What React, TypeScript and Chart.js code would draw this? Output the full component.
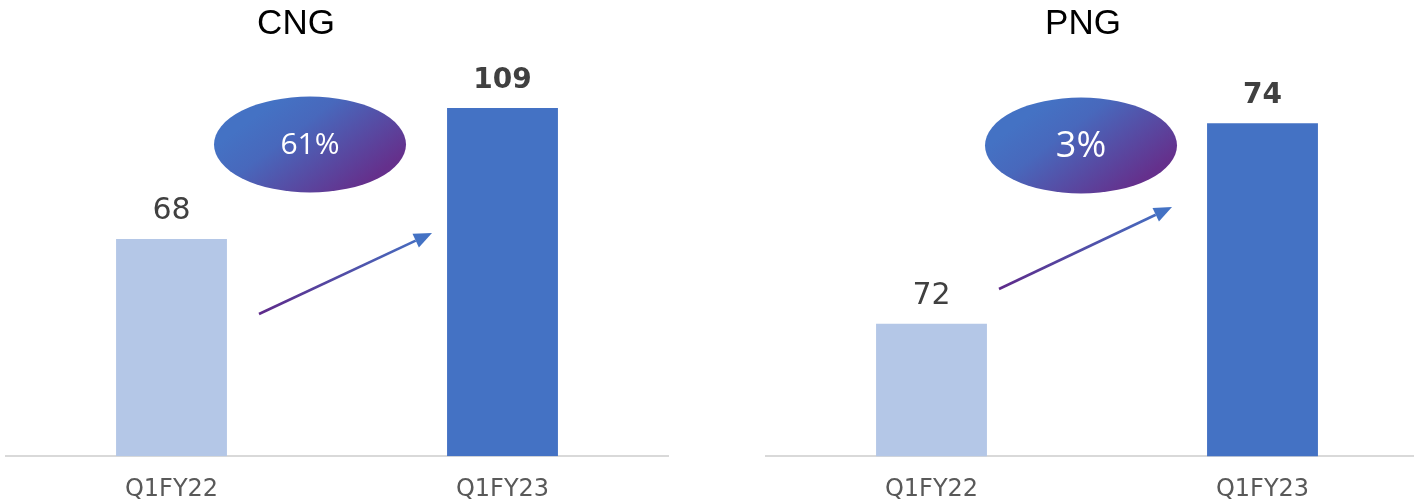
import React, { useEffect, useRef } from "react";
import { Chart, registerables } from "chart.js";

Chart.register(...registerables);

// ---- data ----
const categories = ["Q1FY22", "Q1FY23"];
const cngValues = [68, 109];
const pngValues = [72, 74];
const cngGrowth = "61%";
const pngGrowth = "3%";
const titles = ["CNG", "PNG"];

const BAR_LIGHT = "#B4C7E7";
const BAR_DARK = "#4472C4";
const BLUE = "#4472C4";
const PURPLE = "#65308C";

type Deco = {
  title: string;
  titleX: number;
  growth: string;
  growthFont: number;
  ell: { cx: number; cy: number; rx: number; ry: number };
  arrow: { x1: number; y1: number; x2: number; y2: number };
};

const decoPlugin = {
  id: "deco",
  afterDatasetsDraw(chart: any, _args: any, opts: Deco) {
    const ctx = chart.ctx as CanvasRenderingContext2D;
    // title
    ctx.save();
    ctx.fillStyle = "#000000";
    ctx.font = "35px 'Liberation Sans', Arial, sans-serif";
    ctx.textAlign = "center";
    ctx.textBaseline = "alphabetic";
    ctx.fillText(opts.title, opts.titleX, 34);
    ctx.restore();

    // value labels
    const meta = chart.getDatasetMeta(0);
    const data = chart.data.datasets[0].data as number[];
    meta.data.forEach((bar: any, i: number) => {
      ctx.save();
      ctx.fillStyle = "#404040";
      ctx.textAlign = "center";
      ctx.textBaseline = "alphabetic";
      ctx.font = i === 1 ? "bold 28px 'DejaVu Sans', sans-serif" : "30px 'DejaVu Sans', sans-serif";
      ctx.fillText(String(data[i]), bar.x, bar.y - 20);
      ctx.restore();
    });

    // ellipse
    const e = opts.ell;
    ctx.save();
    const g = ctx.createLinearGradient(e.cx - e.rx * 0.3, e.cy - e.ry, e.cx + e.rx * 0.45, e.cy + e.ry);
    g.addColorStop(0, BLUE);
    g.addColorStop(0.3, "#4868BC");
    g.addColorStop(1, PURPLE);
    ctx.fillStyle = g;
    ctx.beginPath();
    ctx.ellipse(e.cx, e.cy, e.rx, e.ry, 0, 0, Math.PI * 2);
    ctx.fill();
    ctx.fillStyle = "#FFFFFF";
    ctx.font = `${opts.growthFont}px 'Open Sans', sans-serif`;
    ctx.textAlign = "center";
    ctx.textBaseline = "middle";
    ctx.fillText(opts.growth, e.cx, e.cy + 1);
    ctx.restore();

    // arrow
    const a = opts.arrow;
    ctx.save();
    const ag = ctx.createLinearGradient(a.x1, a.y1, a.x2, a.y2);
    ag.addColorStop(0, "#5E2A8A");
    ag.addColorStop(1, BLUE);
    const ang = Math.atan2(a.y2 - a.y1, a.x2 - a.x1);
    const headLen = 18;
    const headW = 7.5;
    const bx = a.x2 - headLen * Math.cos(ang);
    const by = a.y2 - headLen * Math.sin(ang);
    ctx.strokeStyle = ag;
    ctx.lineWidth = 2.6;
    ctx.beginPath();
    ctx.moveTo(a.x1, a.y1);
    ctx.lineTo(bx, by);
    ctx.stroke();
    ctx.fillStyle = BLUE;
    ctx.beginPath();
    ctx.moveTo(a.x2, a.y2);
    ctx.lineTo(bx + headW * Math.sin(ang), by - headW * Math.cos(ang));
    ctx.lineTo(bx - headW * Math.sin(ang), by + headW * Math.cos(ang));
    ctx.closePath();
    ctx.fill();
    ctx.restore();
  },
};

function BarPanel({ values, yMin, yMax, deco }: { values: number[]; yMin: number; yMax: number; deco: Deco }) {
  const ref = useRef<HTMLCanvasElement>(null);
  useEffect(() => {
    if (!ref.current) return;
    const chart = new Chart(ref.current, {
      type: "bar",
      data: {
        labels: categories,
        datasets: [
          {
            data: values,
            backgroundColor: [BAR_LIGHT, BAR_DARK],
            categoryPercentage: 1,
            barPercentage: 0.335,
          },
        ],
      },
      options: {
        animation: false,
        responsive: false,
        layout: { padding: { left: 6, right: 6, top: 57, bottom: 0 } },
        plugins: {
          legend: { display: false },
          tooltip: { enabled: false },
          deco: deco,
        } as any,
        scales: {
          x: {
            grid: { display: false, drawTicks: false },
            border: { display: true, color: "#D9D9D9", width: 2 },
            ticks: {
              color: "#595959",
              font: { family: "'DejaVu Sans', sans-serif", size: 24 },
              padding: 19,
            },
          },
          y: {
            display: false,
            min: yMin,
            max: yMax,
          },
        },
      },
      plugins: [decoPlugin],
    });
    return () => chart.destroy();
  }, []);
  return <canvas ref={ref} width={674} height={523} style={{ width: 674, height: 523, display: "block" }} />;
}

export default function App() {
  return (
    <div
      style={{
        position: "fixed",
        left: 0,
        top: 0,
        width: 1414,
        height: 503,
        overflow: "hidden",
        background: "#FFFFFF",
      }}
    >
      <div style={{ position: "absolute", left: 0, top: 0 }}>
        <BarPanel
          values={cngValues}
          yMin={0}
          yMax={125}
          deco={{
            title: titles[0],
            titleX: 296,
            growth: cngGrowth,
            growthFont: 30,
            ell: { cx: 310, cy: 144.5, rx: 96, ry: 48 },
            arrow: { x1: 259, y1: 314, x2: 432, y2: 233 },
          }}
        />
      </div>
      <div style={{ position: "absolute", left: 760, top: 0 }}>
        <BarPanel
          values={pngValues}
          yMin={70.68}
          yMax={74.66}
          deco={{
            title: titles[1],
            titleX: 323,
            growth: pngGrowth,
            growthFont: 36,
            ell: { cx: 321, cy: 145.5, rx: 96, ry: 48 },
            arrow: { x1: 239, y1: 289, x2: 412, y2: 207 },
          }}
        />
      </div>
    </div>
  );
}
